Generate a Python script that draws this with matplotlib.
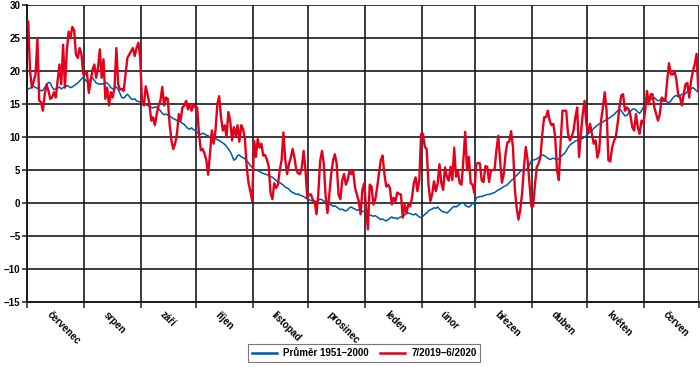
import numpy as np
import matplotlib
matplotlib.use("Agg")
import matplotlib.pyplot as plt

# month names (Czech) and day counts, July 2019 - June 2020
months = ["červenec", "srpen", "září", "říjen", "listopad", "prosinec",
          "leden", "únor", "březen", "duben", "květen", "červen"]
days_in_month = [31, 31, 30, 31, 30, 31, 31, 29, 31, 30, 31, 30]

# daily mean temperature, long-term average 1951-2000 (blue)
avg_jul = [17.3, 17.4, 17.6, 17.7, 17.5, 17.4, 17.2, 17.0, 17.1, 17.5, 17.9, 18.3, 18.2, 17.6, 17.2, 17.3,
           17.4, 17.6, 17.3, 17.5, 17.6, 17.8, 17.7, 17.5, 17.6, 17.8, 18.0, 18.2, 18.5, 18.8, 19.1]
avg_aug = [18.7, 18.4, 18.5, 18.8, 19.0, 18.6, 18.2, 18.1, 18.0, 18.1, 18.0, 18.3, 18.2, 17.9, 17.5, 17.3,
           17.4, 17.6, 17.2, 16.6, 16.0, 15.9, 16.2, 16.5, 16.2, 15.8, 15.7, 15.8, 15.5, 15.4, 15.3]
avg_sep = [15.3, 15.1, 14.9, 14.8, 14.7, 14.5, 14.4, 14.6, 14.5, 14.3, 14.0, 13.6, 13.4, 13.5, 13.3, 13.2,
           13.0, 12.8, 12.7, 12.5, 12.4, 12.3, 12.1, 11.9, 11.6, 11.3, 11.2, 11.4, 11.1, 11.0]
avg_oct = [10.7, 10.5, 10.4, 10.6, 10.5, 10.3, 10.2, 10.0, 10.2, 10.0, 9.8, 9.6, 9.5, 9.3, 9.1, 8.9,
           8.6, 8.2, 7.8, 7.2, 6.5, 6.7, 7.2, 7.3, 7.0, 6.9, 6.7, 6.4, 6.1, 5.7, 5.4]
avg_nov = [5.1, 5.0, 4.9, 4.8, 4.6, 4.5, 4.4, 4.3, 4.2, 4.0, 3.9, 3.7, 3.4, 3.2, 3.1, 2.9,
           2.7, 2.4, 2.3, 2.1, 1.8, 1.6, 1.5, 1.3, 1.4, 1.2, 1.1, 1.0, 0.8, 0.6]
avg_dec = [0.5, 0.4, 0.3, 0.3, 0.2, 0.4, 0.6, 0.5, 0.3, 0.0, -0.2, -0.1, -0.3, -0.5, -0.4, -0.6,
           -0.8, -1.0, -0.9, -1.1, -1.2, -1.0, -0.7, -0.6, -0.8, -0.9, -1.1, -1.0, -1.2, -1.3, -1.2]
avg_jan = [-1.4, -1.7, -1.8, -1.9, -2.0, -1.9, -2.1, -2.3, -2.5, -2.4, -2.6, -2.7, -2.5, -2.3, -2.1, -2.3,
           -2.2, -2.4, -2.2, -2.1, -2.0, -1.8, -1.6, -1.5, -1.6, -1.7, -1.8, -1.6, -1.9, -2.1, -2.2]
avg_feb = [-2.0, -1.7, -1.5, -1.2, -1.0, -0.9, -0.7, -0.8, -0.6, -0.9, -1.2, -1.3, -1.4, -1.5, -1.3,
           -1.0, -0.7, -0.5, -0.6, -0.4, -0.2, 0.0, 0.1, -0.3, -0.5, -0.6, -0.4, 0.0, -0.2]
avg_mar = [0.8, 0.9, 1.0, 1.0, 1.1, 1.2, 1.3, 1.3, 1.4, 1.5, 1.6, 1.8, 2.0, 2.1, 2.3, 2.5,
           2.6, 2.8, 3.1, 3.4, 3.6, 3.9, 4.2, 4.5, 4.8, 5.0, 5.1, 5.0, 5.3, 5.8, 6.4]
avg_apr = [6.5, 6.6, 6.7, 6.9, 7.1, 7.3, 7.2, 7.0, 6.8, 6.6, 6.7, 6.8, 6.7, 6.6, 6.7, 7.0,
           7.3, 7.5, 7.9, 8.4, 8.8, 9.0, 9.2, 9.4, 9.5, 9.6, 9.7, 9.8, 10.0, 10.2]
avg_may = [10.5, 10.8, 11.0, 11.3, 11.6, 11.8, 12.0, 12.1, 12.3, 12.5, 12.6, 12.8, 13.0, 13.2, 13.4, 13.7,
           14.0, 14.2, 14.0, 13.6, 13.2, 13.3, 13.6, 13.9, 14.2, 14.3, 14.1, 13.8, 13.6, 14.0, 14.5]
avg_jun = [14.8, 15.1, 15.4, 15.7, 16.0, 16.0, 15.7, 15.5, 15.6, 15.8, 15.9, 15.6, 15.3, 15.2, 15.5,
           15.9, 16.2, 16.3, 16.1, 16.3, 16.5, 16.4, 16.6, 16.9, 17.2, 17.3, 17.5, 17.3, 17.0, 16.8]

# daily mean temperature 7/2019 - 6/2020 (red)
t_jul = [27.5, 20.0, 17.5, 18.5, 19.5, 25.0, 15.5, 15.3, 14.0, 16.5, 18.0, 17.0, 15.8, 16.0, 16.8, 16.0,
         18.5, 21.0, 18.0, 24.0, 17.5, 23.0, 26.0, 25.0, 26.7, 26.2, 22.5, 22.0, 23.5, 22.5, 19.5]
t_aug = [19.5, 19.8, 16.7, 18.5, 20.2, 21.0, 19.0, 20.5, 23.3, 19.0, 21.8, 15.8, 17.5, 14.8, 16.8, 16.0,
         17.5, 23.5, 18.0, 17.2, 17.3, 17.0, 19.5, 22.0, 22.5, 23.0, 23.5, 22.3, 23.5, 24.3, 22.0]
t_sep = [15.2, 14.8, 17.7, 16.5, 15.0, 12.5, 13.0, 11.8, 13.5, 14.8, 15.5, 17.6, 14.8, 16.0, 15.8,
         12.0, 9.5, 8.2, 9.0, 10.5, 13.5, 12.5, 14.5, 14.8, 15.5, 14.2, 15.0, 14.0, 15.0, 14.5]
t_oct = [14.5, 10.5, 8.0, 8.2, 7.5, 6.5, 4.3, 7.5, 11.0, 9.0, 11.0, 15.0, 16.2, 13.0, 11.0, 11.8,
         10.0, 13.8, 12.5, 9.5, 11.5, 10.2, 11.8, 9.3, 11.8, 11.2, 9.8, 5.5, 3.0, 1.8, 0.3]
t_nov = [9.4, 7.0, 9.7, 8.4, 9.0, 7.2, 7.3, 6.6, 5.5, 1.5, 0.6, 3.0, 2.3, 2.8, 5.0,
         6.5, 10.7, 6.6, 4.4, 5.9, 6.9, 8.2, 6.9, 5.0, 4.5, 4.4, 5.4, 7.9, 5.0, 0.8]
t_dec = [1.3, 1.3, 0.5, 0.2, -1.7, 1.5, 6.4, 7.9, 5.9, 1.0, -1.5, 1.3, 4.4, 6.4, 7.4, 6.0,
         1.3, 0.6, 3.4, 4.4, 2.8, 3.5, 4.9, 4.4, 4.9, 2.3, 1.3, 0.3, -1.7, 2.0, 3.0]
t_jan = [-0.7, -4.0, 2.8, 2.5, -0.2, 0.5, 2.3, 4.4, 6.5, 7.2, 4.4, 2.5, 2.8, 2.3, -0.2, 0.8,
         0.3, 1.6, 1.4, 1.3, -2.2, -0.2, -1.5, -0.2, -0.5, 0.8, 3.0, 3.9, 1.8, 3.5, 10.5]
t_feb = [10.5, 8.5, 8.2, 2.8, 0.3, 1.3, 3.3, 1.8, 3.0, 5.9, 3.0, 2.0, 5.4, 4.0, 3.4,
         5.5, 3.5, 8.4, 4.0, 4.9, 3.0, 2.8, 6.5, 10.8, 5.0, 7.0, 3.0, 2.8, 1.5]
t_mar = [5.9, 6.1, 6.0, 3.4, 3.2, 5.6, 5.5, 3.2, 4.9, 5.0, 5.1, 8.0, 10.2, 6.5, 3.1, 4.4,
         7.5, 9.2, 9.3, 10.9, 8.5, 2.3, -0.7, -2.5, -1.0, 1.5, 5.4, 8.5, 6.5, 3.0, -0.5]
t_apr = [-0.5, 2.8, 5.5, 6.0, 7.0, 10.5, 13.0, 13.0, 14.0, 12.5, 11.8, 12.0, 10.0, 5.0, 3.5,
         9.4, 14.0, 14.0, 14.0, 10.5, 9.5, 10.0, 11.0, 13.0, 14.5, 7.0, 10.5, 13.5, 15.5, 12.0]
t_may = [10.7, 12.0, 10.5, 9.0, 9.5, 6.9, 8.0, 12.5, 14.5, 16.8, 14.0, 6.5, 6.3, 8.4, 9.4, 10.0,
         12.0, 14.5, 16.3, 16.5, 14.0, 14.5, 14.2, 13.3, 11.5, 11.0, 13.5, 11.5, 10.5, 12.5, 12.0]
t_jun = [14.0, 17.0, 15.0, 16.5, 16.5, 14.5, 13.5, 12.5, 13.5, 16.0, 15.5, 15.5, 18.5, 21.2, 19.5,
         19.5, 20.0, 18.7, 16.5, 16.0, 14.8, 16.5, 18.0, 18.2, 16.0, 18.5, 20.0, 21.0, 22.6, 17.0]

avg = np.concatenate([avg_jul, avg_aug, avg_sep, avg_oct, avg_nov, avg_dec,
                      avg_jan, avg_feb, avg_mar, avg_apr, avg_may, avg_jun])
cur = np.concatenate([t_jul, t_aug, t_sep, t_oct, t_nov, t_dec,
                      t_jan, t_feb, t_mar, t_apr, t_may, t_jun])
day = np.arange(len(avg)) + 0.5

plt.rcParams['font.family'] = ['Liberation Sans Narrow', 'Liberation Sans', 'DejaVu Sans']

fig = plt.figure(figsize=(7, 3.67), dpi=100)
ax = fig.add_axes([0.039, 0.177, 0.960, 0.809])

ax.plot(day, avg, color='#0057a8', lw=1.1, label='Průměr 1951–2000', zorder=3)
ax.plot(day, cur, color='#e3001b', lw=1.7, label='7/2019–6/2020', zorder=4)

bounds = np.concatenate([[0], np.cumsum(days_in_month)])
centers = (bounds[:-1] + bounds[1:]) / 2
ax.set_xlim(0, bounds[-1])
ax.set_ylim(-15, 30)

ax.set_xticks(bounds)
ax.set_xticklabels([])
ax.set_xticks(centers - 4, minor=True)
ax.set_xticklabels(months, minor=True, rotation=-45, ha='left', va='center',
                   rotation_mode='anchor', fontsize=7, fontweight='bold')
ax.tick_params(axis='x', which='major', length=4, width=1.1, color='#222222')
ax.tick_params(axis='x', which='minor', length=0, pad=8)

yt = np.arange(-15, 31, 5)
ax.set_yticks(yt)
ax.set_yticklabels([str(v).replace('-', '\u2212') for v in yt], fontsize=7, fontweight='bold')
ax.tick_params(axis='y', length=3.5, width=1.1, color='#222222', pad=1.5)

ax.grid(True, which='major', color='#1a1a1a', lw=1.2)
ax.set_axisbelow(True)
for s in ['top', 'right']:
    ax.spines[s].set_visible(False)
for s in ['left', 'bottom']:
    ax.spines[s].set_color('#1a1a1a')
    ax.spines[s].set_linewidth(1.4)

leg = fig.legend(loc='lower center', bbox_to_anchor=(0.52, 0.0), ncol=2,
                 frameon=True, fancybox=False, handlelength=2.6,
                 borderpad=0.4, columnspacing=1.2, handletextpad=0.6,
                 prop={'weight': 'bold', 'size': 7})
leg.get_frame().set_edgecolor('#555555')
leg.get_frame().set_linewidth(0.8)
for line in leg.get_lines():
    line.set_linewidth(1.8)

fig.savefig('out.png', dpi=100)
